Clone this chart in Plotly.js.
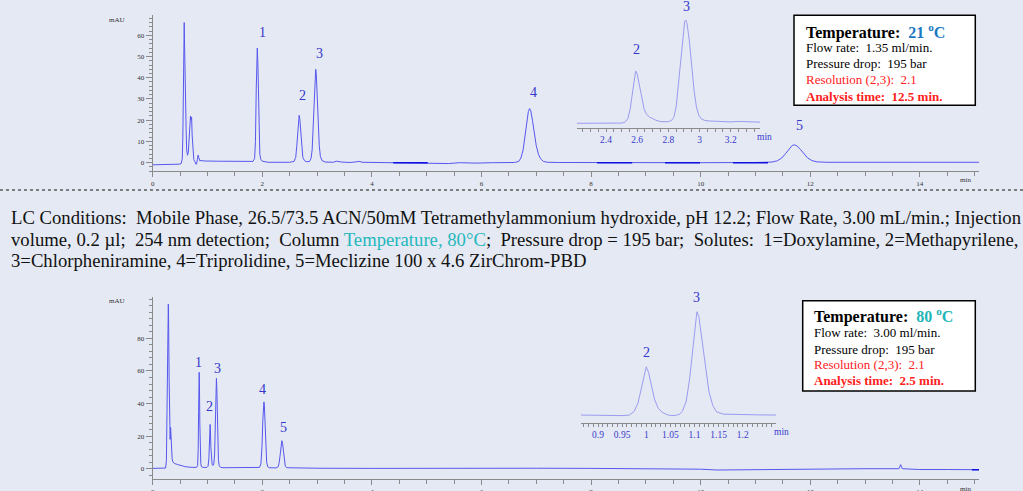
<!DOCTYPE html>
<html><head><meta charset="utf-8">
<script src="https://cdn.plot.ly/plotly-3.0.1.min.js"></script>
<style>html,body{margin:0;padding:0;background:#e4e9f3;}#chart{width:1023px;height:491px;}</style>
</head><body><div id="chart"></div>
<script>
// ---------- DATA ----------
// Top chromatogram, 21 °C (time in min, absorbance in mAU)
const tTop = [0,0.30,0.48,0.52,0.54,0.55,0.56,0.57,0.575,0.58,0.59,0.60,0.61,0.62,0.635,0.65,0.665,0.68,0.69,0.70,0.71,0.72,0.735,0.75,0.77,0.79,0.80,0.815,0.83,0.84,0.85,0.86,0.88,0.95,1.2,1.5,1.75,1.83,1.86,1.875,1.89,1.90,1.909,1.92,1.93,1.94,1.955,1.975,2.0,2.1,2.3,2.5,2.58,2.61,2.63,2.65,2.665,2.673,2.685,2.70,2.72,2.74,2.77,2.80,2.86,2.89,2.91,2.93,2.95,2.965,2.975,2.985,3.0,3.02,3.04,3.06,3.09,3.15,3.3,3.35,3.45,3.6,3.78,3.82,4.0,4.5,5.0,5.4,5.6,5.9,6.2,6.6,6.68,6.72,6.76,6.80,6.83,6.855,6.878,6.90,6.93,6.96,7.0,7.04,7.08,7.13,7.2,7.4,8.0,9.0,10.0,11.0,11.3,11.4,11.48,11.55,11.62,11.67,11.71,11.76,11.82,11.88,11.95,12.03,12.12,12.3,13.0,14.0,15.08];
const aTop = [-1.0,-0.9,-0.7,-0.4,2,12,40,62,66,58,34,29,16,6,3.5,5,14,21,22,20,21.5,13,4,1.5,0.5,-0.8,-0.6,1.5,3.6,2.5,1.2,0.9,1.0,0.8,0.7,0.6,0.6,0.6,2,10,35,52,54,46,28,12,4,1.5,0.7,0.2,0.1,0.2,0.6,2.5,8,17,21.5,22.3,20.5,14,6,2.5,1,0.5,0.5,2,6,18,36,43,44,42,33,18,8,3,1,0.3,0.2,0.7,0.3,0.1,0.6,0.2,0.1,0,-0.2,-0.4,0,-0.2,0,0.1,0.6,2.2,6,13,19.5,24,25.5,24.5,20,14,8,4,1.8,0.6,0.2,0.1,0,-0.1,0,0.1,0.3,0.9,2.2,4.3,6.8,8.1,8.4,7.9,6.3,4.3,2.3,1,0.4,0.2,0.1,0.2,0.2];
// darker baseline stretches in the top trace: [start, end] in min, and their level in mAU
const topDarkStretches = [[4.39,5.02],[8.11,8.75],[9.35,9.99],[10.59,11.23]];
const topDarkLevel = 0;

// Top inset (zoom on peaks 2 and 3)
const tIn1 = [2.212,2.40,2.50,2.52,2.54,2.555,2.57,2.58,2.59,2.60,2.615,2.63,2.645,2.66,2.68,2.70,2.72,2.75,2.77,2.80,2.82,2.835,2.85,2.865,2.88,2.895,2.905,2.912,2.92,2.935,2.95,2.965,2.98,2.995,3.01,3.03,3.06,3.1,3.2,3.25,3.3,3.388];
const aIn1 = [0,0,0.1,0.4,2,6,13,19,22.3,21,16,10,6,3.8,2.6,2.0,1.3,0.7,0.6,0.7,1.2,2.5,7,17,30,40,43.5,44,42.5,35,24,14,7,3.5,2,1.3,1,0.8,0.6,0.8,0.6,0.5];

// Bottom chromatogram, 80 °C
const tBot = [0,0.2,0.235,0.25,0.26,0.27,0.28,0.285,0.29,0.30,0.31,0.318,0.327,0.335,0.345,0.355,0.37,0.40,0.45,0.50,0.55,0.60,0.70,0.80,0.82,0.83,0.838,0.844,0.848,0.853,0.86,0.868,0.878,0.89,0.92,0.99,1.01,1.025,1.037,1.045,1.048,1.053,1.062,1.072,1.085,1.10,1.115,1.13,1.142,1.152,1.16,1.163,1.17,1.18,1.19,1.20,1.215,1.24,1.3,1.6,1.9,1.95,1.975,1.995,2.01,2.022,2.03,2.038,2.05,2.065,2.08,2.1,2.13,2.25,2.29,2.31,2.33,2.345,2.357,2.37,2.385,2.40,2.42,2.45,2.6,3.0,4.0,5.0,6.0,7.0,8.0,9.0,10.0,10.3,10.8,11.4,12.0,13.0,13.62,13.65,13.68,14.0,14.5,15.08];
const aBot = [0.2,0.2,0.4,5,30,75,99,101,92,55,24,18,25.4,18,9,6,4,3.2,2.6,2,1.6,1.2,0.9,0.8,2,12,35,54,59.2,52,28,10,3,1.2,0.8,0.8,1.5,6,18,26,27.2,24,13,5,2.5,2,3,9,25,45,54,55.5,50,32,14,5,1.8,0.8,0.6,0.5,0.5,0.8,3,14,30,39,41,39,28,12,4,1.2,0.6,0.5,1.2,4,10,15.5,17.2,15.5,10,4.5,1.5,0.6,0.4,0.3,0.2,0.3,0.5,0.3,0.2,0.1,-0.3,-0.8,-0.6,-0.7,-0.3,0,0,2.5,0,-0.5,-0.5,-0.6];
const botDarkStretches = [[14.95,15.08]];
const botDarkLevel = -0.6;

// Bottom inset
const tIn2 = [0.8647,0.9,0.95,0.965,0.975,0.983,0.99,0.995,1.0,1.005,1.01,1.017,1.025,1.033,1.042,1.05,1.06,1.068,1.075,1.083,1.09,1.097,1.102,1.105,1.109,1.115,1.122,1.13,1.138,1.146,1.16,1.18,1.2,1.23,1.269];
const aIn2 = [0.5,0.3,0.2,0.5,2.5,7,15,22,26.2,23,17,9,4,2,0.8,0.3,0.3,0.8,2.5,8,20,38,51,55.5,53,42,27,13,5.5,2.2,1,0.8,0.6,0.6,0.5];

// Peak apexes and their numbers
const peakNames = ['1','2','3','4','5'];
const peakTimesTop = [1.909,2.673,2.975,6.878,11.71];
const peakHeightsTop = [54,22.3,44,25.5,8.4];
const peakTimesBot = [0.848,1.048,1.163,2.03,2.357];
const peakHeightsBot = [59.2,27.2,55.5,41,17.2];
const insetNames = ['2','3'];
const peakTimesIn1 = [2.59,2.912];
const peakHeightsIn1 = [22.3,44];
const peakTimesIn2 = [1.0,1.105];
const peakHeightsIn2 = [26.2,55.5];

// Tick labels
const insetTicks1 = [2.4,2.6,2.8,3,3.2];
const insetTickText1 = ['2.4','2.6','2.8','3','3.2'];
const insetTicks2 = [0.9,0.95,1,1.05,1.1,1.15,1.2];
const insetTickText2 = ['0.9','0.95','1','1.05','1.1','1.15','1.2'];
const botYTicks = [0,20,40,60,80];

// Info boxes
const boxTop = {temp:'21', flow:'1.35 ml/min.', pressure:'195 bar', resolution:'2.1', time:'12.5 min.'};
const boxBot = {temp:'80', flow:'3.00 ml/min.', pressure:'195 bar', resolution:'2.1', time:'2.5 min.'};

const conditionsLines = [
  'LC Conditions:\u00a0 Mobile Phase, 26.5/73.5 ACN/50mM Tetramethylammonium hydroxide, pH 12.2; Flow Rate, 3.00 mL/min.; Injection',
  'volume, 0.2 µl;\u00a0 254 nm detection;\u00a0 Column <span style="color:#25b8bd">Temperature, 80°C</span>;\u00a0 Pressure drop = 195 bar;\u00a0 Solutes:\u00a0 1=Doxylamine, 2=Methapyrilene,',
  '3=Chlorpheniramine, 4=Triprolidine, 5=Meclizine 100 x 4.6 ZirChrom-PBD'
];

// ---------- LAYOUT HELPERS ----------
const W = 1023, H = 491;
const px = v => v / W;
const py = v => 1 - v / H;
const SERIF = 'Liberation Serif, Times New Roman, serif';
const AXC = '#8a8a8a';
const TRACE = '#5757ee';
const TRACE_IN = '#9b9bf0';
const LABEL = '#3535cc';

function darkSegs(stretches, level) {
  const x = [], y = [];
  stretches.forEach(s => { x.push(s[0], s[1], null); y.push(level, level, null); });
  return {x, y};
}
const dTop = darkSegs(topDarkStretches, topDarkLevel);
const dBot = darkSegs(botDarkStretches, botDarkLevel);

const traces = [
  {x:tTop, y:aTop, xaxis:'x', yaxis:'y', mode:'lines', line:{color:TRACE, width:1}},
  {x:dTop.x, y:dTop.y, xaxis:'x', yaxis:'y', mode:'lines', line:{color:'#1010e0', width:1.6}},
  {x:tBot, y:aBot, xaxis:'x2', yaxis:'y2', mode:'lines', line:{color:TRACE, width:1}},
  {x:dBot.x, y:dBot.y, xaxis:'x2', yaxis:'y2', mode:'lines', line:{color:'#1010e0', width:1.6}},
  {x:tIn1, y:aIn1, xaxis:'x3', yaxis:'y3', mode:'lines', line:{color:TRACE_IN, width:1}},
  {x:tIn2, y:aIn2, xaxis:'x4', yaxis:'y4', mode:'lines', line:{color:TRACE_IN, width:1}}
];

const mainX = (anchor) => ({
  domain:[px(152.7), px(979)], range:[0, 15.08], anchor:anchor,
  showline:true, linecolor:AXC, linewidth:1, ticks:'outside', ticklen:5, tickwidth:1, tickcolor:AXC,
  tickmode:'linear', tick0:0, dtick:2,
  minor:{dtick:0.5, tick0:0, ticklen:4, tickcolor:AXC, ticks:'outside'},
  tickfont:{family:SERIF, size:7, color:'#333'}, showgrid:false, zeroline:false, fixedrange:true
});
const insetX = (anchor, dom, rng, tv, tt, minorDt) => ({
  domain:dom, range:rng, anchor:anchor,
  showline:true, linecolor:AXC, linewidth:1, ticks:'outside', ticklen:3, tickcolor:AXC,
  tickmode:'array', tickvals:tv, ticktext:tt,
  minor:{dtick:minorDt, tick0:0, ticklen:3, tickcolor:AXC, ticks:'outside'},
  tickfont:{family:SERIF, size:9.5, color:'#3a3acc'}, showgrid:false, zeroline:false
});

const layout = {
  width:W, height:H, margin:{l:0,r:0,t:0,b:0},
  paper_bgcolor:'#e4e9f3', plot_bgcolor:'rgba(0,0,0,0)', showlegend:false,
  xaxis: mainX('y'),
  yaxis: {domain:[py(171.3), py(15.3)], range:[-4.05, 69.4], anchor:'x',
    showline:true, linecolor:AXC, ticks:'outside', ticklen:6, tickcolor:AXC,
    tickmode:'linear', tick0:0, dtick:10,
    minor:{dtick:2, tick0:0, ticklen:3, tickcolor:AXC, ticks:'outside'},
    tickfont:{family:SERIF, size:7, color:'#333'}, showgrid:false, zeroline:false},
  xaxis2: mainX('y2'),
  yaxis2: {domain:[py(479.3), py(296.7)], range:[-6.5, 105.6], anchor:'x2',
    showline:true, linecolor:AXC, ticks:'outside', ticklen:6, tickcolor:AXC,
    tickmode:'array', tickvals:botYTicks,
    minor:{dtick:4, tick0:0, ticklen:3, tickcolor:AXC, ticks:'outside'},
    tickfont:{family:SERIF, size:7, color:'#333'}, showgrid:false, zeroline:false},
  xaxis3: insetX('y3', [px(576.7), px(760)], [2.212, 3.388], insetTicks1, insetTickText1, 0.05),
  yaxis3: {domain:[py(128), py(15.3)], range:[-2, 46], anchor:'x3', visible:false},
  xaxis4: insetX('y4', [px(581), px(776)], [0.8647, 1.269], insetTicks2, insetTickText2, 0.01),
  yaxis4: {domain:[py(422.7), py(296)], range:[-3.57, 63.9], anchor:'x4', visible:false},
  shapes:[
    {type:'line', xref:'paper', yref:'paper', x0:0, x1:1, y0:py(190), y1:py(190),
     line:{color:'#5a5a5a', width:1.5, dash:'dot'}},
    {type:'rect', xref:'paper', yref:'paper', x0:px(794), x1:px(975.3), y0:py(105.3), y1:py(15.3),
     fillcolor:'#ffffff', line:{color:'#000', width:1.5}},
    {type:'rect', xref:'paper', yref:'paper', x0:px(802.7), x1:px(975.3), y0:py(391), y1:py(300.7),
     fillcolor:'#ffffff', line:{color:'#000', width:1.5}}
  ],
  annotations:[]
};

const ann = layout.annotations;
function peakLabels(names, times, heights, xr, yr, shifts, size) {
  names.forEach((n, i) => ann.push({text:n, x:times[i], y:heights[i], xref:xr, yref:yr,
    showarrow:false, xanchor:'center', yanchor:'middle', xshift:shifts[i][0], yshift:shifts[i][1],
    font:{family:SERIF, size:size, color:LABEL}}));
}
peakLabels(peakNames, peakTimesTop, peakHeightsTop, 'x', 'y', [[5,16],[3,20],[4,16],[4,16],[5,19]], 14);
peakLabels(peakNames, peakTimesBot, peakHeightsBot, 'x2', 'y2', [[-1,10],[-1,18],[1,10],[-1,12],[1.5,13]], 14);
peakLabels(insetNames, peakTimesIn1, peakHeightsIn1, 'x3', 'y3', [[1,21],[1,13]], 14);
peakLabels(insetNames, peakTimesIn2, peakHeightsIn2, 'x4', 'y4', [[0,14],[0,14]], 14);

function txt(text, x, y, size, color, anchor) {
  ann.push({text:text, x:px(x), y:py(y), xref:'paper', yref:'paper', showarrow:false,
    xanchor:anchor || 'left', yanchor:'middle', font:{family:SERIF, size:size, color:color}});
}
// axis unit labels
txt('mAU', 117, 20, 7, '#333', 'center');
txt('mAU', 117, 301, 7, '#333', 'center');
txt('min', 965, 180, 7, '#333', 'center');
txt('min', 965, 489, 7, '#333', 'center');
txt('min', 764, 137, 9.5, '#3a3acc', 'center');
txt('min', 781, 431.7, 9.5, '#3a3acc', 'center');

function infoBox(b, left, ys, tempColor) {
  txt('<b>Temperature:\u00a0 <span style="color:' + tempColor + '">' + b.temp + ' <sup>o</sup>C</span></b>', left, ys[0], 16, '#000');
  txt('Flow rate:\u00a0 ' + b.flow, left, ys[1], 13, '#000');
  txt('Pressure drop:\u00a0 ' + b.pressure, left, ys[2], 13, '#000');
  txt('Resolution (2,3):\u00a0 ' + b.resolution, left, ys[3], 13, '#ff2020');
  txt('<b>Analysis time:\u00a0 ' + b.time + '</b>', left, ys[4], 13, '#ff2020');
}
infoBox(boxTop, 804, [31, 47.7, 63.3, 79.3, 96], '#1a78c2');
infoBox(boxBot, 812.3, [315, 332.7, 349, 364.3, 380], '#22b5b8');

conditionsLines.forEach((l, i) => txt(l, 9, [217, 239, 260][i], 18.7, '#111'));

Plotly.newPlot('chart', traces, layout, {displayModeBar:false, staticPlot:true});
</script>
</body></html>
